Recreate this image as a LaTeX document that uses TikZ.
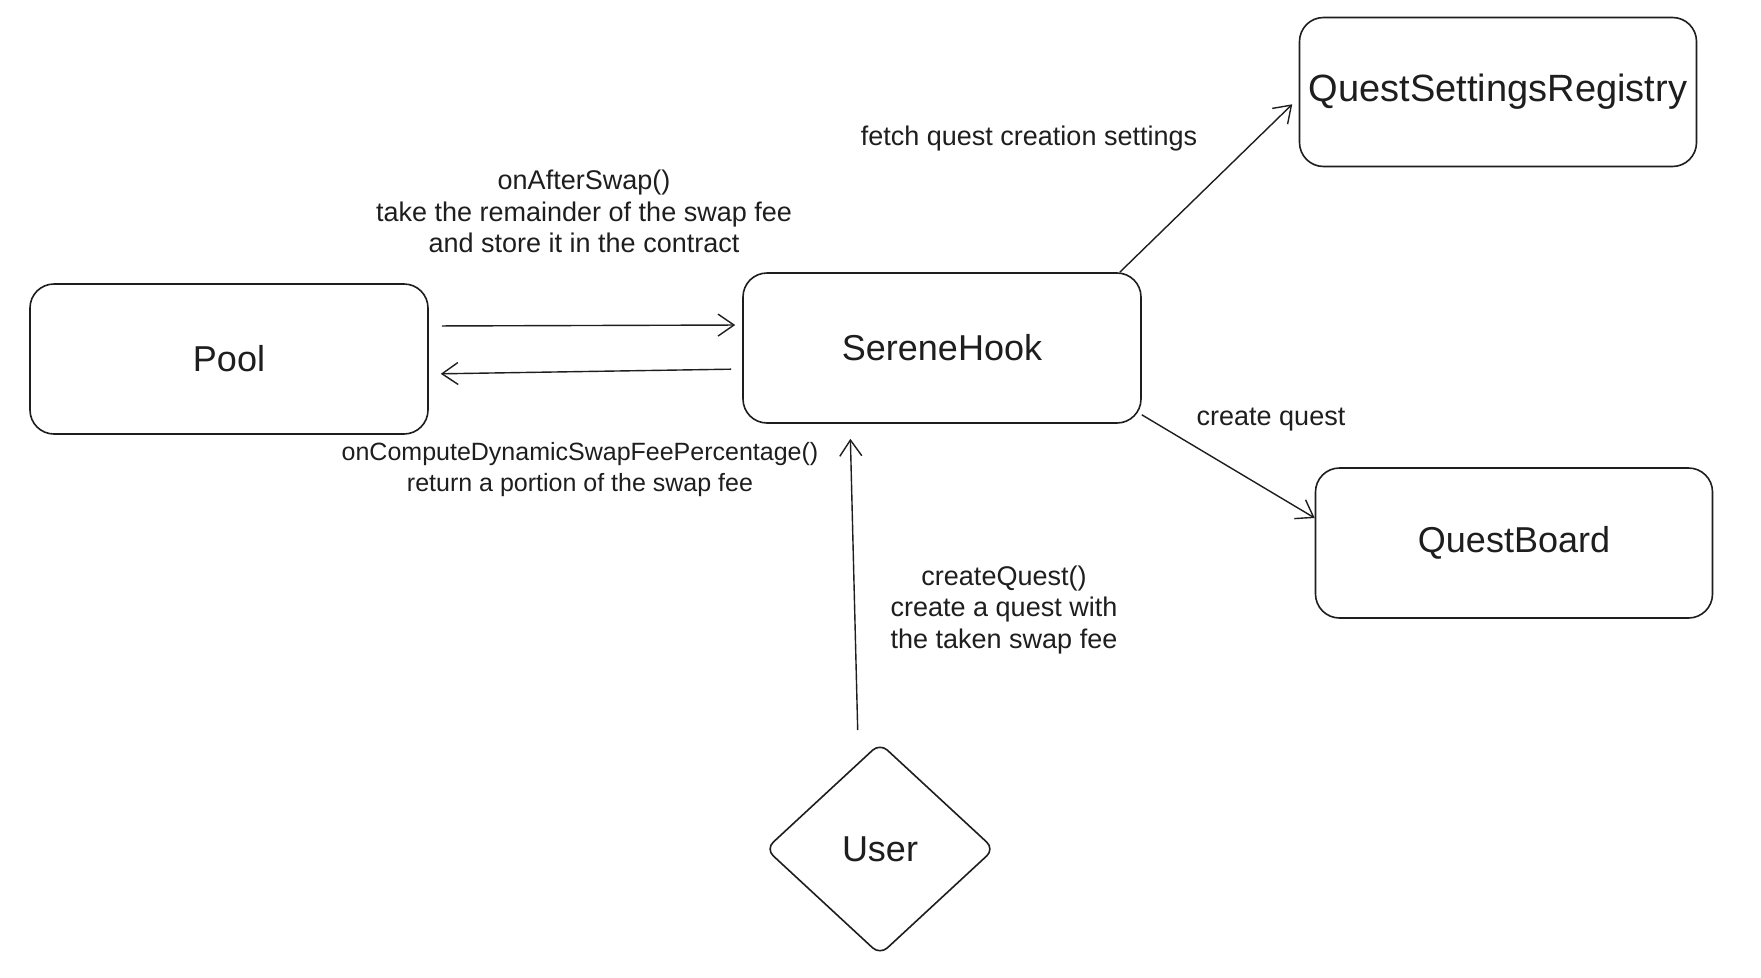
\documentclass[tikz,border=0pt]{standalone}
\usepackage{fontspec}
\setmainfont{Liberation Sans}
\usetikzlibrary{arrows.meta,shapes.geometric}
\definecolor{ink}{HTML}{1E1E1E}
\tikzset{
  box/.style={draw=ink, line width=1.6pt, rounded corners=24pt, minimum width=398pt, minimum height=150pt, inner sep=0pt, font=\fontsize{36}{40}\selectfont, text=ink},
  userbox/.style={draw=ink, line width=1.6pt, diamond, rounded corners=10pt, minimum width=229pt, minimum height=212pt, inner sep=0pt, font=\fontsize{36}{40}\selectfont, text=ink},
  lbl/.style={align=center, inner sep=0pt, font=\fontsize{27}{31.5}\selectfont, text=ink},
  arr/.style={draw=ink, line width=1.4pt, -{Straight Barb[length=16pt,width=22pt,line width=1.4pt]}}
}
\begin{document}
\begin{tikzpicture}[x=1pt,y=-1pt]
\useasboundingbox[fill=white] (0,0) rectangle (1761,977);
\node[box] (pool) at (229,359) {Pool};
\node[box] (hook) at (942,348) {SereneHook};
\node[box, minimum width=397pt, minimum height=149pt, font=\fontsize{38}{42}\selectfont] (qsr) at (1498,92) {QuestSettingsRegistry};
\node[box, minimum width=397pt] (qb) at (1514,543) {QuestBoard};
\node[userbox] (user) at (880,849) {User};

\draw[arr, shorten <=13pt, shorten >=7pt] ([yshift=33pt]pool.east) -- ([yshift=23pt]hook.west);
\draw[arr, shorten <=11pt, shorten >=12pt] ([yshift=-21pt]hook.west) -- ([yshift=-15pt]pool.east);
\draw[arr, shorten <=12pt, shorten >=15pt] ([xshift=-22pt]user.north) -- ([xshift=-92pt]hook.south);
\draw[arr, shorten >=9pt] ([xshift=-22pt]hook.north east) -- ([yshift=-6pt]qsr.west);
\draw[arr] ([yshift=9pt]hook.south east) -- ([yshift=25pt]qb.west);

\node[lbl] (l1) at (584,211.5) {onAfterSwap()\\take the remainder of the swap fee\\and store it in the contract};
\node[lbl, font=\fontsize{25}{31.5}\selectfont] (l2) at (580,469.5) {onComputeDynamicSwapFeePercentage()\\return a portion of the swap fee};
\node[lbl] (l3) at (1029,139) {fetch quest creation settings};
\node[lbl] (l4) at (1271,420) {create quest};
\node[lbl] (l5) at (1004,610) {createQuest()\\create a quest with\\the taken swap fee};
\end{tikzpicture}
\end{document}
